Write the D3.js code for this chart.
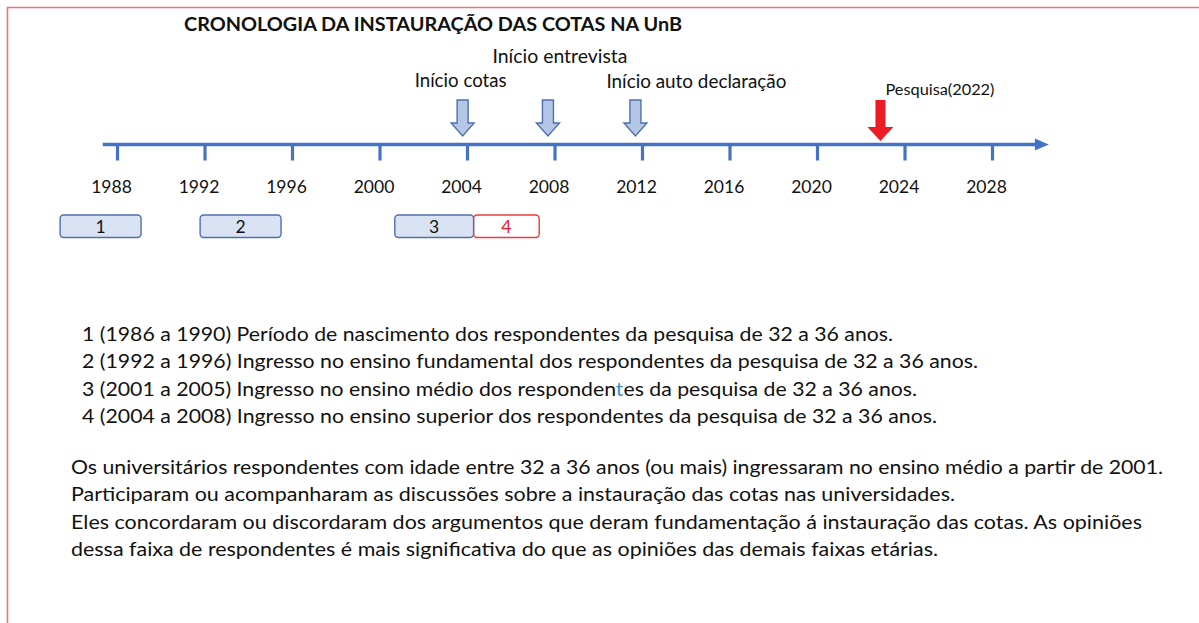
<!DOCTYPE html>
<html>
<head>
<meta charset="utf-8">
<script src="https://cdn.jsdelivr.net/npm/d3@7"></script>
<style>
  html, body { margin: 0; padding: 0; background: #ffffff; }
  svg { display: block; }
  text { font-family: Lato, "Open Sans", "Noto Sans", sans-serif; fill: #111; }
</style>
</head>
<body>
<div id="chart"></div>
<script>
// ---------------- data ----------------
const title = "CRONOLOGIA DA INSTAURAÇÃO DAS COTAS NA UnB";
const tickYears = [1988, 1992, 1996, 2000, 2004, 2008, 2012, 2016, 2020, 2024, 2028];
const eventLabels = ["Início cotas", "Início entrevista", "Início auto declaração"];
const eventYears = [2003.8, 2007.7, 2011.7];
const surveyLabel = "Pesquisa(2022)";
const surveyYear = 2022.9;
const periodIds = ["1", "2", "3", "4"];
const periodStart = [1985.4, 1991.8, 2000.7, 2004.3];
const periodEnd = [1989.1, 1995.5, 2004.3, 2007.3];
const legendLines = [
  "1 (1986 a 1990) Período de nascimento dos respondentes da pesquisa de 32 a 36 anos.",
  "2 (1992 a 1996) Ingresso no ensino fundamental dos respondentes da pesquisa de 32 a 36 anos.",
  "3 (2001 a 2005) Ingresso no ensino médio dos respondentes da pesquisa de 32 a 36 anos.",
  "4 (2004 a 2008) Ingresso no ensino superior dos respondentes da pesquisa de 32 a 36 anos."
];
const paragraphLines = [
  "Os universitários respondentes com idade entre 32 a 36 anos (ou mais) ingressaram no ensino médio a partir de 2001.",
  "Participaram ou acompanharam as discussões sobre a instauração das cotas nas universidades.",
  "Eles concordaram ou discordaram dos argumentos que deram fundamentação á instauração das cotas. As opiniões",
  "dessa faixa de respondentes é mais significativa do que as opiniões das demais faixas etárias."
];

// ---------------- layout ----------------
const W = 1199, H = 623;
const axisY = 144.5;
const blue = "#4472c4";
const svg = d3.select("#chart").append("svg").attr("width", W).attr("height", H);

function fit(sel, w) {
  sel.attr("textLength", w).attr("lengthAdjust", "spacingAndGlyphs");
  return sel;
}

// frame
svg.append("path")
  .attr("d", `M7.5,${H + 2} L7.5,7.5 L${W + 2},7.5`)
  .attr("fill", "none").attr("stroke", "#f07272").attr("stroke-width", 1.6);

// title
fit(svg.append("text").attr("x", 184).attr("y", 31)
  .attr("font-size", 18.5).attr("font-weight", 700).text(title), 498);

// scale
const x = d3.scaleLinear().domain([1988, 2028]).range([117, 992]);

// axis main line with arrow head
const lineStart = x(1987.35), lineEnd = x(2030.05), tip = x(2030.6);
svg.append("line").attr("x1", lineStart).attr("x2", lineEnd)
  .attr("y1", axisY).attr("y2", axisY)
  .attr("stroke", blue).attr("stroke-width", 3.6);
svg.append("path")
  .attr("d", `M${lineEnd - 2},${axisY - 6} L${tip},${axisY} L${lineEnd - 2},${axisY + 6} Z`)
  .attr("fill", blue);

// ticks & labels via d3 axis
const axis = d3.axisBottom(x).tickValues(tickYears).tickFormat(d3.format("d"))
  .tickSizeInner(16).tickSizeOuter(0).tickPadding(22);
const gAxis = svg.append("g").attr("transform", `translate(0,${axisY})`).call(axis);
gAxis.select(".domain").remove();
gAxis.selectAll(".tick line").attr("stroke", blue).attr("stroke-width", 3.2);
gAxis.selectAll(".tick text")
  .attr("font-family", "Lato, 'Open Sans', sans-serif")
  .attr("font-size", 17.5).attr("fill", "#111").attr("dx", -6).attr("dy", "0.62em");

// event arrows (down block arrows)
function downArrow(cx, top, headStart, tipY, shaftHW, headHW) {
  return `M${cx - shaftHW},${top} L${cx + shaftHW},${top} L${cx + shaftHW},${headStart}
          L${cx + headHW},${headStart} L${cx},${tipY} L${cx - headHW},${headStart}
          L${cx - shaftHW},${headStart} Z`;
}
svg.selectAll(".evArrow").data(eventYears).enter().append("path")
  .attr("class", "evArrow")
  .attr("d", d => downArrow(x(d), 100, 123, 136, 5.5, 11.5))
  .attr("fill", "#b4c7e7").attr("stroke", "#4f70ad").attr("stroke-width", 1.4)
  .attr("stroke-linejoin", "miter");

const labelDx = [-2, 12, 61];
const labelY = [87, 63, 88];
const labelW = [92, 135, 180];
eventLabels.forEach((lab, i) => {
  fit(svg.append("text").attr("x", x(eventYears[i]) + labelDx[i] - labelW[i] / 2).attr("y", labelY[i])
    .attr("font-size", 18.5).text(lab), labelW[i]);
});

// survey red arrow
svg.append("path")
  .attr("d", downArrow(x(surveyYear), 100, 127, 141, 5, 13))
  .attr("fill", "#ed1c24");
fit(svg.append("text").attr("x", x(surveyYear) + 5).attr("y", 95)
  .attr("font-size", 15.5).text(surveyLabel), 109);

// period boxes
const periods = periodIds.map((id, i) => ({ id, s: periodStart[i], e: periodEnd[i], red: i === 3 }));
const boxTop = 215, boxH = 22.5;
// draw red (4) first so 3 overlaps its left edge
const order = [3, 0, 1, 2];
order.forEach(i => {
  const p = periods[i];
  svg.append("rect")
    .attr("x", x(p.s)).attr("y", boxTop)
    .attr("width", x(p.e) - x(p.s)).attr("height", boxH)
    .attr("rx", 3.5).attr("ry", 3.5)
    .attr("fill", p.red ? "#ffffff" : "#dae3f3")
    .attr("stroke", p.red ? "#ee3a3a" : "#4f70ad").attr("stroke-width", 1.4);
});
svg.selectAll(".pid").data(periods).enter().append("text")
  .attr("class", "pid")
  .attr("x", d => (x(d.s) + x(d.e)) / 2)
  .attr("y", 233)
  .attr("text-anchor", "middle")
  .attr("font-size", 17.5)
  .style("fill", d => d.red ? "#e8202a" : "#111")
  .text(d => d.id);

// legend lines
const legendW = [811, 896, 835, 855];
legendLines.forEach((t, i) => {
  const tx = svg.append("text").attr("x", 82).attr("y", 341 + i * 27.4).attr("font-size", 19.5);
  if (i === 2) {
    const k = t.indexOf("respondentes") + 9; // the 't' in respondentes
    tx.append("tspan").text(t.slice(0, k));
    tx.append("tspan").style("fill", "#3f8fb8").text(t.slice(k, k + 1));
    tx.append("tspan").text(t.slice(k + 1));
  } else {
    tx.text(t);
  }
  fit(tx, legendW[i]);
});

// paragraph
const paraW = [1092, 884, 1071, 867];
paragraphLines.forEach((t, i) => {
  fit(svg.append("text").attr("x", 71).attr("y", 474 + i * 27.4).attr("font-size", 19.5).text(t), paraW[i]);
});
</script>
</body>
</html>
